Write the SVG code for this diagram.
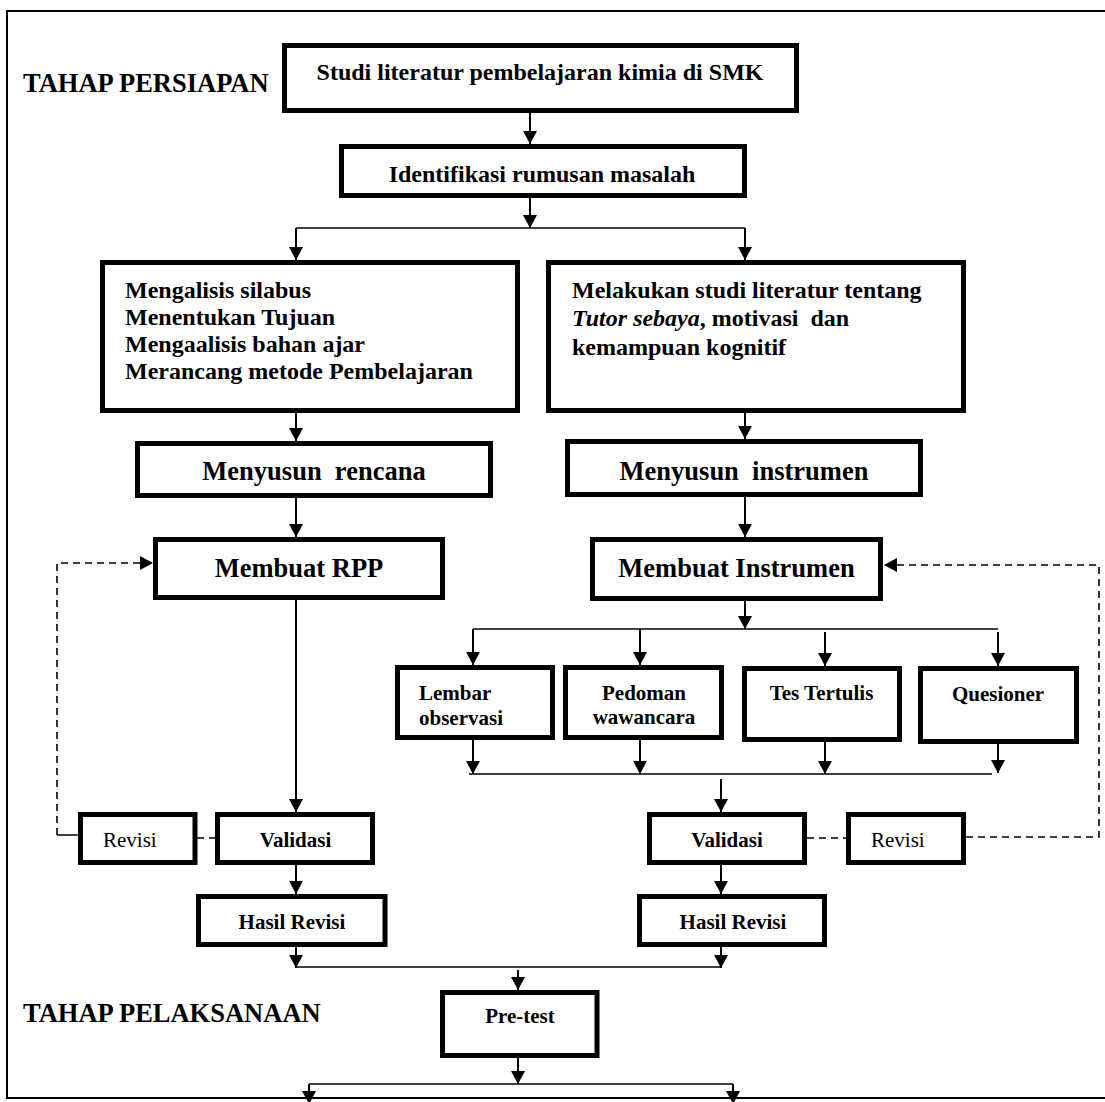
<svg xmlns="http://www.w3.org/2000/svg" width="1105" height="1102" viewBox="0 0 1105 1102">
<style>
text{font-family:"Liberation Serif","Times New Roman",serif;fill:#000;white-space:pre}
.b{font-weight:bold}
.h{font-size:26.5px;font-weight:bold}
.m{font-size:24px;font-weight:bold}
.s{font-size:21px;font-weight:bold}
.r{font-size:21px;font-weight:normal}
.box{fill:#fff;stroke:#000;stroke-width:5}
.ln{fill:none;stroke:#000;stroke-width:2}
.th{fill:none;stroke:#000;stroke-width:1.5}
.ds{fill:none;stroke:#000;stroke-width:1.6;stroke-dasharray:7 5}
.c{text-anchor:middle}
</style>
<defs>
<marker id="ah" markerUnits="userSpaceOnUse" markerWidth="14" markerHeight="14" viewBox="0 0 14 14" refX="13" refY="7" orient="auto">
<path d="M0,0 L13,7 L0,14 z" fill="#000"/>
</marker>
</defs>
<path d="M1105 11 H7 V1098 H1105" fill="none" stroke="#000" stroke-width="2"/>
<text class="h" x="23" y="92">TAHAP PERSIAPAN</text>
<text class="h" x="23" y="1022">TAHAP PELAKSANAAN</text>
<g id="connectors">
<line class="ln" x1="530" y1="113" x2="530" y2="144" marker-end="url(#ah)"/>
<line class="ln" x1="530" y1="198" x2="530" y2="228" marker-end="url(#ah)"/>
<line class="th" x1="296" y1="228" x2="745" y2="228"/>
<line class="ln" x1="296" y1="228" x2="296" y2="260" marker-end="url(#ah)"/>
<line class="ln" x1="745" y1="228" x2="745" y2="260" marker-end="url(#ah)"/>
<line class="ln" x1="296" y1="413" x2="296" y2="441" marker-end="url(#ah)"/>
<line class="ln" x1="296" y1="498" x2="296" y2="537" marker-end="url(#ah)"/>
<line class="ln" x1="745" y1="413" x2="745" y2="439" marker-end="url(#ah)"/>
<line class="ln" x1="745" y1="497" x2="745" y2="537" marker-end="url(#ah)"/>
<line class="ln" x1="296" y1="600" x2="296" y2="812" marker-end="url(#ah)"/>
<path class="ds" d="M57 835 V563 H153" marker-end="url(#ah)"/>
<line class="th" x1="57" y1="835" x2="79" y2="835"/>
<line class="ds" x1="197" y1="838" x2="216" y2="838"/>
<line class="ln" x1="745" y1="601" x2="745" y2="629" marker-end="url(#ah)"/>
<line class="th" x1="473" y1="629" x2="998" y2="629"/>
<line class="ln" x1="473" y1="629" x2="473" y2="665" marker-end="url(#ah)"/>
<line class="ln" x1="640" y1="629" x2="640" y2="665" marker-end="url(#ah)"/>
<line class="ln" x1="825" y1="632" x2="825" y2="666" marker-end="url(#ah)"/>
<line class="ln" x1="998" y1="632" x2="998" y2="666" marker-end="url(#ah)"/>
<line class="ln" x1="473" y1="740" x2="473" y2="774" marker-end="url(#ah)"/>
<line class="ln" x1="640" y1="740" x2="640" y2="774" marker-end="url(#ah)"/>
<line class="ln" x1="825" y1="742" x2="825" y2="774" marker-end="url(#ah)"/>
<line class="ln" x1="998" y1="744" x2="998" y2="773" marker-end="url(#ah)"/>
<line class="th" x1="469" y1="774" x2="992" y2="774"/>
<line class="ln" x1="721" y1="779" x2="721" y2="812" marker-end="url(#ah)"/>
<line class="ds" x1="807" y1="838" x2="847" y2="838"/>
<path class="ds" d="M966 837 H1099 V565 H884" marker-end="url(#ah)"/>
<line class="ln" x1="296" y1="865" x2="296" y2="894" marker-end="url(#ah)"/>
<line class="ln" x1="721" y1="865" x2="721" y2="894" marker-end="url(#ah)"/>
<line class="ln" x1="296" y1="947" x2="296" y2="968" marker-end="url(#ah)"/>
<line class="ln" x1="721" y1="947" x2="721" y2="968" marker-end="url(#ah)"/>
<line class="th" x1="296" y1="967" x2="721" y2="967"/>
<line class="ln" x1="518" y1="970" x2="518" y2="990" marker-end="url(#ah)"/>
<line class="ln" x1="518" y1="1058" x2="518" y2="1084" marker-end="url(#ah)"/>
<line class="th" x1="309" y1="1084" x2="733" y2="1084"/>
<line class="ln" x1="309" y1="1084" x2="309" y2="1104" marker-end="url(#ah)"/>
<line class="ln" x1="733" y1="1084" x2="733" y2="1104" marker-end="url(#ah)"/>
</g>
<g id="n-studi">
<rect class="box" x="284.5" y="45.5" width="512" height="65"/>
<text class="m c" x="540" y="80">Studi literatur pembelajaran kimia di SMK</text>
</g>
<g id="n-identifikasi">
<rect class="box" x="341.5" y="146.5" width="403" height="49"/>
<text class="m c" x="542" y="182">Identifikasi rumusan masalah</text>
</g>
<g id="n-analisis">
<rect class="box" x="102.5" y="262.5" width="415" height="148"/>
<text class="m" x="125" y="298">Mengalisis silabus</text>
<text class="m" x="125" y="325">Menentukan Tujuan</text>
<text class="m" x="125" y="352">Mengaalisis bahan ajar</text>
<text class="m" x="125" y="379">Merancang metode Pembelajaran</text>
</g>
<g id="n-literatur">
<rect class="box" x="548.5" y="262.5" width="415" height="148"/>
<text class="m" x="572" y="298">Melakukan studi literatur tentang</text>
<text class="m" x="572" y="326"><tspan font-style="italic">Tutor sebaya</tspan>, motivasi  dan</text>
<text class="m" x="572" y="355">kemampuan kognitif</text>
</g>
<g id="n-rencana">
<rect class="box" x="137.5" y="443.5" width="353" height="52"/>
<text class="h c" x="314" y="480">Menyusun  rencana</text>
</g>
<g id="n-instrumen">
<rect class="box" x="567.5" y="441.5" width="353" height="53"/>
<text class="h c" x="744" y="480">Menyusun  instrumen</text>
</g>
<g id="n-rpp">
<rect class="box" x="155.5" y="539.5" width="287" height="58"/>
<text class="h c" x="299" y="577">Membuat RPP</text>
</g>
<g id="n-membuat-instrumen">
<rect class="box" x="592.5" y="539.5" width="288" height="59"/>
<text class="h c" x="736.5" y="577">Membuat Instrumen</text>
</g>
<g id="n-lembar">
<rect class="box" x="397.5" y="667.5" width="155" height="70"/>
<text class="s" x="419" y="700">Lembar</text>
<text class="s" x="419" y="725">observasi</text>
</g>
<g id="n-pedoman">
<rect class="box" x="565.5" y="667.5" width="156" height="70"/>
<text class="s c" x="644" y="700">Pedoman</text>
<text class="s c" x="644" y="724">wawancara</text>
</g>
<g id="n-tes">
<rect class="box" x="744.5" y="668.5" width="155" height="71"/>
<text class="s c" x="821.5" y="700">Tes Tertulis</text>
</g>
<g id="n-quesioner">
<rect class="box" x="920.5" y="668.5" width="156" height="73"/>
<text class="s c" x="998" y="701">Quesioner</text>
</g>
<g id="n-revisi-l">
<rect class="box" x="80.5" y="814.5" width="114.5" height="48"/>
<text class="r" x="103" y="847">Revisi</text>
</g>
<g id="n-validasi-l">
<rect class="box" x="217.5" y="814.5" width="155" height="48"/>
<text class="s c" x="295.5" y="847">Validasi</text>
</g>
<g id="n-validasi-r">
<rect class="box" x="649.5" y="814.5" width="155" height="48"/>
<text class="s c" x="727" y="847">Validasi</text>
</g>
<g id="n-revisi-r">
<rect class="box" x="848.5" y="814.5" width="115" height="48"/>
<text class="r" x="871" y="847">Revisi</text>
</g>
<g id="n-hasil-l">
<rect class="box" x="198.5" y="896.5" width="186.5" height="48"/>
<text class="s c" x="292" y="929">Hasil Revisi</text>
</g>
<g id="n-hasil-r">
<rect class="box" x="639.5" y="896.5" width="185" height="48"/>
<text class="s c" x="733" y="929">Hasil Revisi</text>
</g>
<g id="n-pretest">
<rect class="box" x="442.5" y="992.5" width="154.5" height="63"/>
<text class="s c" x="520" y="1023">Pre-test</text>
</g>
</svg>
